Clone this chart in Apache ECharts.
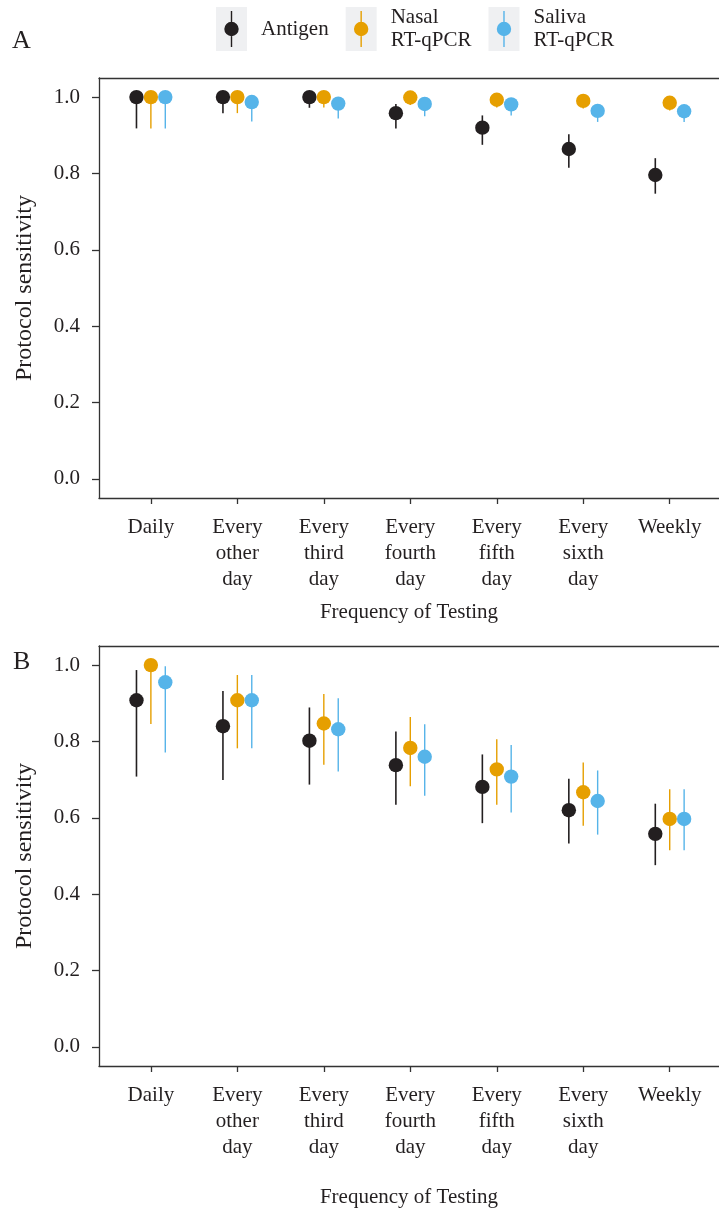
<!DOCTYPE html>
<html>
<head>
<meta charset="utf-8">
<script src="https://cdn.jsdelivr.net/npm/echarts@6/dist/echarts.min.js"></script>
<style>
html,body{margin:0;padding:0;background:#fff;}
#chart{width:719px;height:1212px;}
</style>
</head>
<body>
<div id="chart"></div>
<script>
// ---------- data ----------
const categories = ['Daily', 'Every other day', 'Every third day', 'Every fourth day', 'Every fifth day', 'Every sixth day', 'Weekly'];
const tickLabels = ['Daily', 'Every\nother\nday', 'Every\nthird\nday', 'Every\nfourth\nday', 'Every\nfifth\nday', 'Every\nsixth\nday', 'Weekly'];
const yTicks = [0, 0.2, 0.4, 0.6, 0.8, 1.0];
const seriesNames = ['Antigen', 'Nasal RT-qPCR', 'Saliva RT-qPCR'];
const panelLabels = ['A', 'B'];

// Panel A
const antigenA_est = [1.000, 1.000, 1.000, 0.958, 0.920, 0.864, 0.796];
const antigenA_lo  = [0.918, 0.958, 0.972, 0.918, 0.875, 0.815, 0.747];
const antigenA_hi  = [1.000, 1.000, 1.000, 0.982, 0.952, 0.903, 0.840];
const nasalA_est   = [1.000, 1.000, 1.000, 0.999, 0.993, 0.990, 0.985];
const nasalA_lo    = [0.918, 0.958, 0.973, 0.979, 0.973, 0.970, 0.965];
const nasalA_hi    = [1.000, 1.000, 1.000, 1.000, 1.000, 1.000, 0.997];
const salivaA_est  = [1.000, 0.987, 0.983, 0.982, 0.981, 0.964, 0.963];
const salivaA_lo   = [0.918, 0.936, 0.944, 0.950, 0.952, 0.935, 0.935];
const salivaA_hi   = [1.000, 1.000, 0.998, 0.997, 0.995, 0.982, 0.980];

// Panel B
const antigenB_est = [0.908, 0.840, 0.802, 0.738, 0.681, 0.620, 0.558];
const antigenB_lo  = [0.708, 0.699, 0.687, 0.634, 0.586, 0.533, 0.476];
const antigenB_hi  = [0.987, 0.932, 0.889, 0.826, 0.766, 0.702, 0.637];
const nasalB_est   = [1.000, 0.908, 0.847, 0.783, 0.727, 0.667, 0.597];
const nasalB_lo    = [0.846, 0.782, 0.739, 0.683, 0.634, 0.579, 0.515];
const nasalB_hi    = [1.000, 0.974, 0.924, 0.864, 0.806, 0.745, 0.675];
const salivaB_est  = [0.955, 0.908, 0.832, 0.760, 0.708, 0.644, 0.597];
const salivaB_lo   = [0.771, 0.782, 0.721, 0.658, 0.614, 0.556, 0.515];
const salivaB_hi   = [0.997, 0.974, 0.913, 0.845, 0.791, 0.724, 0.675];

// ---------- style ----------
const colors = ['#231F20', '#E69F00', '#56B4E9'];
const FONT = '"Liberation Serif", "DejaVu Serif", serif';
const TXT = '#231F20';
const AX = '#333333';
const dodge = [-1 / 6, 0, 1 / 6];
const X_MIN = 0.4, X_MAX = 7.57;

function makeSeries(k, est, lo, hi, gi) {
  const color = colors[k];
  const off = dodge[k];
  return {
    type: 'custom',
    name: seriesNames[k],
    xAxisIndex: gi, yAxisIndex: gi,
    itemStyle: { color: color },
    encode: { x: 0, y: [1, 2, 3] },
    data: categories.map((c, i) => [i + 1, est[i], lo[i], hi[i]]),
    renderItem: function (params, api) {
      const x = api.value(0) + off;
      const c = api.coord([x, api.value(1)]);
      const l = api.coord([x, api.value(2)]);
      const h = api.coord([x, api.value(3)]);
      return {
        type: 'group',
        children: [
          { type: 'line', shape: { x1: l[0], y1: l[1], x2: h[0], y2: h[1] },
            style: { stroke: color, lineWidth: k === 0 ? 1.6 : 1.4 } },
          { type: 'circle', shape: { cx: c[0], cy: c[1], r: 7.2 }, style: { fill: color } }
        ]
      };
    }
  };
}

const tops = [78, 646];
const nameGaps = [104, 121];

const grids = tops.map(t => ({ left: 99, right: 0, top: t, height: 420 }));

const xIdx = categories.map((c, i) => i + 1);
const axisLineStyle = { color: AX, width: 1.3 };

const xAxesBottom = tops.map((t, gi) => ({
  gridIndex: gi, type: 'value', min: X_MIN, max: X_MAX, position: 'bottom',
  axisLine: { show: true, onZero: false, lineStyle: axisLineStyle },
  splitLine: { show: false },
  axisTick: { show: true, customValues: xIdx, length: 6, lineStyle: axisLineStyle },
  axisLabel: {
    customValues: xIdx, formatter: v => tickLabels[Math.round(v) - 1],
    fontFamily: FONT, fontSize: 21, lineHeight: 26, color: TXT, margin: 16
  },
  name: 'Frequency of Testing', nameLocation: 'middle', nameGap: nameGaps[gi],
  nameTextStyle: { fontFamily: FONT, fontSize: 21, color: TXT }
}));
const xAxesTop = tops.map((t, gi) => ({
  gridIndex: gi, type: 'value', min: X_MIN, max: X_MAX, position: 'top',
  axisLine: { show: true, onZero: false, lineStyle: axisLineStyle },
  splitLine: { show: false }, axisTick: { show: false }, axisLabel: { show: false }
}));

const yAxes = tops.map((t, gi) => ({
  gridIndex: gi, type: 'value', min: -0.05, max: 1.05,
  axisLine: { show: true, onZero: false, lineStyle: axisLineStyle },
  splitLine: { show: false },
  axisTick: { show: true, customValues: yTicks, length: 7, lineStyle: axisLineStyle },
  axisLabel: {
    customValues: yTicks, formatter: v => v.toFixed(1),
    fontFamily: FONT, fontSize: 21, color: TXT, margin: 19
  },
  name: 'Protocol sensitivity', nameLocation: 'middle', nameGap: 62,
  nameTextStyle: { fontFamily: FONT, fontSize: 24, color: TXT }
}));

const series = [
  makeSeries(0, antigenA_est, antigenA_lo, antigenA_hi, 0),
  makeSeries(1, nasalA_est, nasalA_lo, nasalA_hi, 0),
  makeSeries(2, salivaA_est, salivaA_lo, salivaA_hi, 0),
  makeSeries(0, antigenB_est, antigenB_lo, antigenB_hi, 1),
  makeSeries(1, nasalB_est, nasalB_lo, nasalB_hi, 1),
  makeSeries(2, salivaB_est, salivaB_lo, salivaB_hi, 1)
];

const legendCommon = {
  data: seriesNames,
  orient: 'horizontal',
  left: 216, top: 6, padding: 0,
  itemWidth: 40, itemHeight: 44, itemGap: 17,
  selectedMode: false,
  formatter: n => n.replace(' ', '\n')
};
const legendBg = Object.assign({}, legendCommon, {
  z: 3,
  icon: 'path://M0,0H31V44H0ZM40,44L40,44Z',
  itemStyle: { color: '#EFF0F2', borderWidth: 0 },
  textStyle: { fontFamily: FONT, fontSize: 21, lineHeight: 23, color: 'rgba(0,0,0,0)' }
});
const legendFg = Object.assign({}, legendCommon, {
  z: 4,
  icon: 'path://M0,0L0,0ZM40,44L40,44ZM14.8,4H16.2V40H14.8ZM8.3,22A7.2,7.2,0,1,1,22.7,22A7.2,7.2,0,1,1,8.3,22Z',
  itemStyle: { borderWidth: 0 },
  textStyle: { fontFamily: FONT, fontSize: 21, lineHeight: 23, color: TXT }
});

const titles = [
  { text: panelLabels[0], left: 12, top: 28 },
  { text: panelLabels[1], left: 13, top: 649 }
].map(t => Object.assign(t, { padding: 0, textStyle: { fontFamily: FONT, fontSize: 26, fontWeight: 'normal', color: TXT } }));

const chart = echarts.init(document.getElementById('chart'), null, { renderer: 'canvas' });
chart.setOption({
  animation: false,
  backgroundColor: '#ffffff',
  title: titles,
  legend: [legendBg, legendFg],
  grid: grids,
  xAxis: xAxesBottom.concat(xAxesTop),
  yAxis: yAxes,
  series: series
});
</script>
</body>
</html>
